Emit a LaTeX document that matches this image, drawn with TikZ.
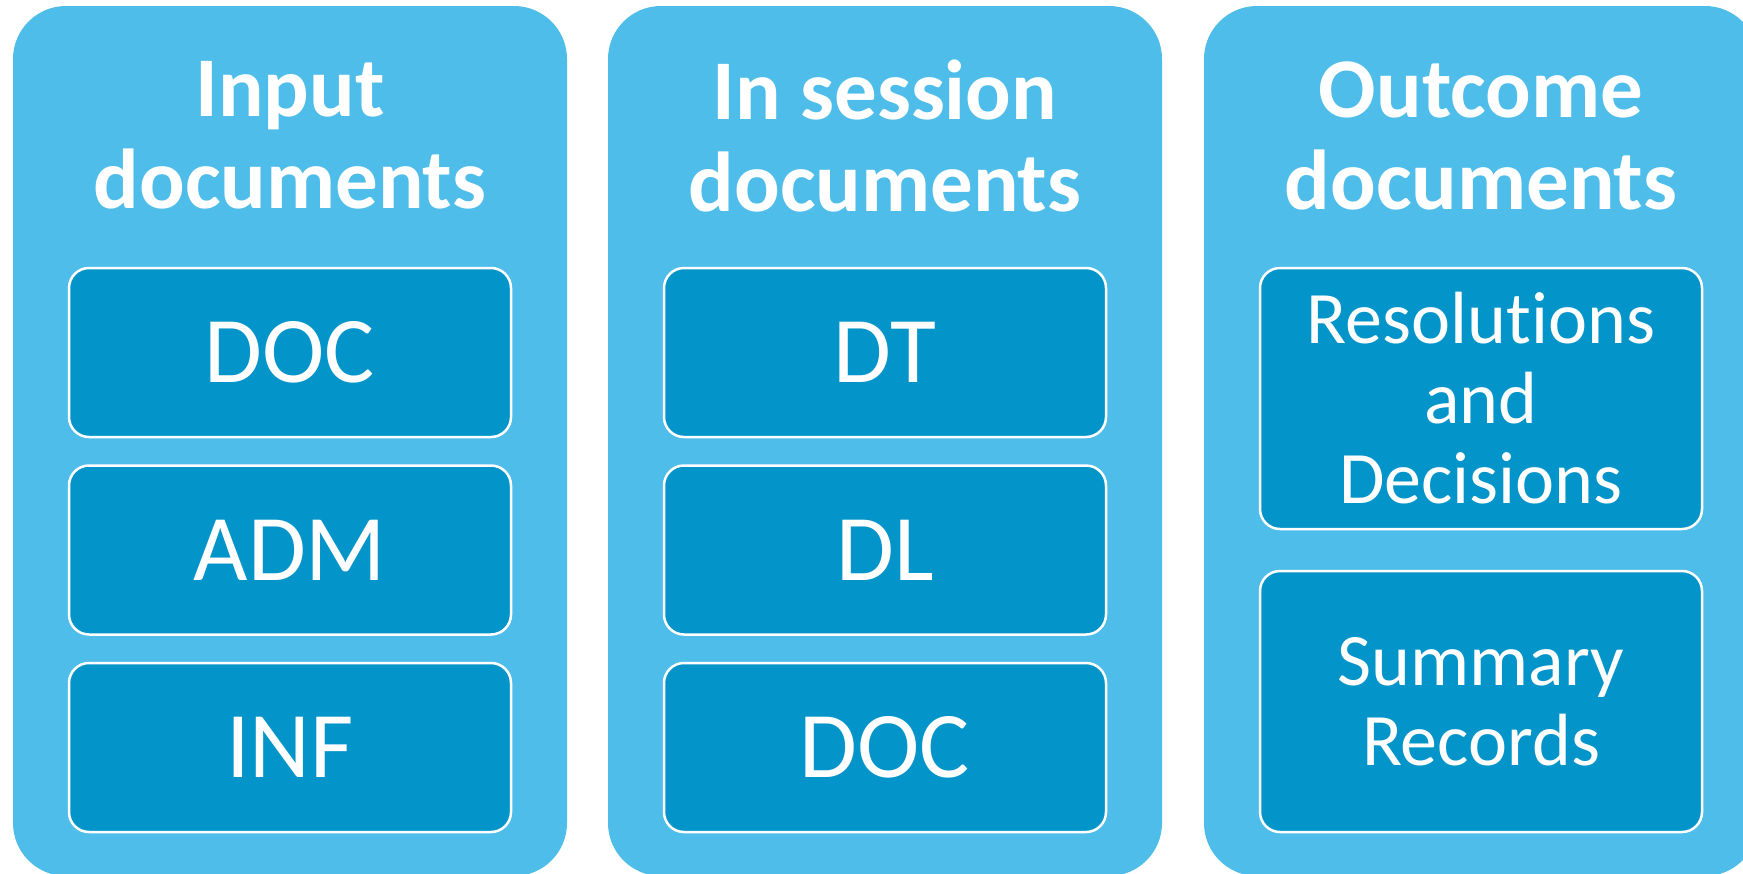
\documentclass[tikz,border=0pt]{standalone}
\usepackage{fontspec}
\setmainfont{Carlito}[Ligatures={NoCommon}]
\definecolor{outerblue}{RGB}{79,189,233}
\definecolor{innerblue}{RGB}{3,149,201}
\begin{document}
\begin{tikzpicture}[x=1pt,y=-1pt,
  outerbox/.style={fill=outerblue, draw=none, rounded corners=53pt, minimum width=554pt, minimum height=870pt, inner sep=0pt},
  innerbox/.style={fill=innerblue, draw=white, line width=2.5pt, rounded corners=20pt, minimum width=442pt, inner sep=0pt, text=white, align=center},
  bigtext/.style={font=\fontsize{94}{100}\selectfont},
  midtext/.style={font=\fontsize{74}{80}\selectfont},
  titletext/.style={text=white, font=\bfseries\fontsize{85}{92}\selectfont, align=center, inner sep=0pt}]
\useasboundingbox (0,0) rectangle (1743,873);
\clip (0,0) rectangle (1743,873);
\fill[white] (0,0) rectangle (1743,873);
% outer columns
\node[outerbox] (o1) at (290,441) {};
\node[outerbox] (o2) at (885,441) {};
\node[outerbox] (o3) at (1481,441) {};
% titles
\node[titletext] (t1) at (290,135.5) {Input\\documents};
\node[titletext] (t2) at (885,135.5) {In session\\documents};
\node[titletext] (t3) at (1481,135.5) {Outcome\\documents};
% column 1
\node[innerbox, bigtext, minimum height=169pt] (a1) at (290,352.5) {DOC};
\node[innerbox, bigtext, minimum height=169pt] (a2) at (290,550) {ADM};
\node[innerbox, bigtext, minimum height=169pt] (a3) at (290,747.5) {INF};
% column 2
\node[innerbox, bigtext, minimum height=169pt] (b1) at (885,352.5) {DT};
\node[innerbox, bigtext, minimum height=169pt] (b2) at (885,550) {DL};
\node[innerbox, bigtext, minimum height=169pt] (b3) at (885,747.5) {DOC};
% column 3
\node[innerbox, midtext, minimum height=261pt] (c1) at (1481,398.5) {Resolutions\\and\\Decisions};
\node[innerbox, midtext, minimum height=261pt] (c2) at (1481,701.5) {Summary\\Records};
\end{tikzpicture}
\end{document}
